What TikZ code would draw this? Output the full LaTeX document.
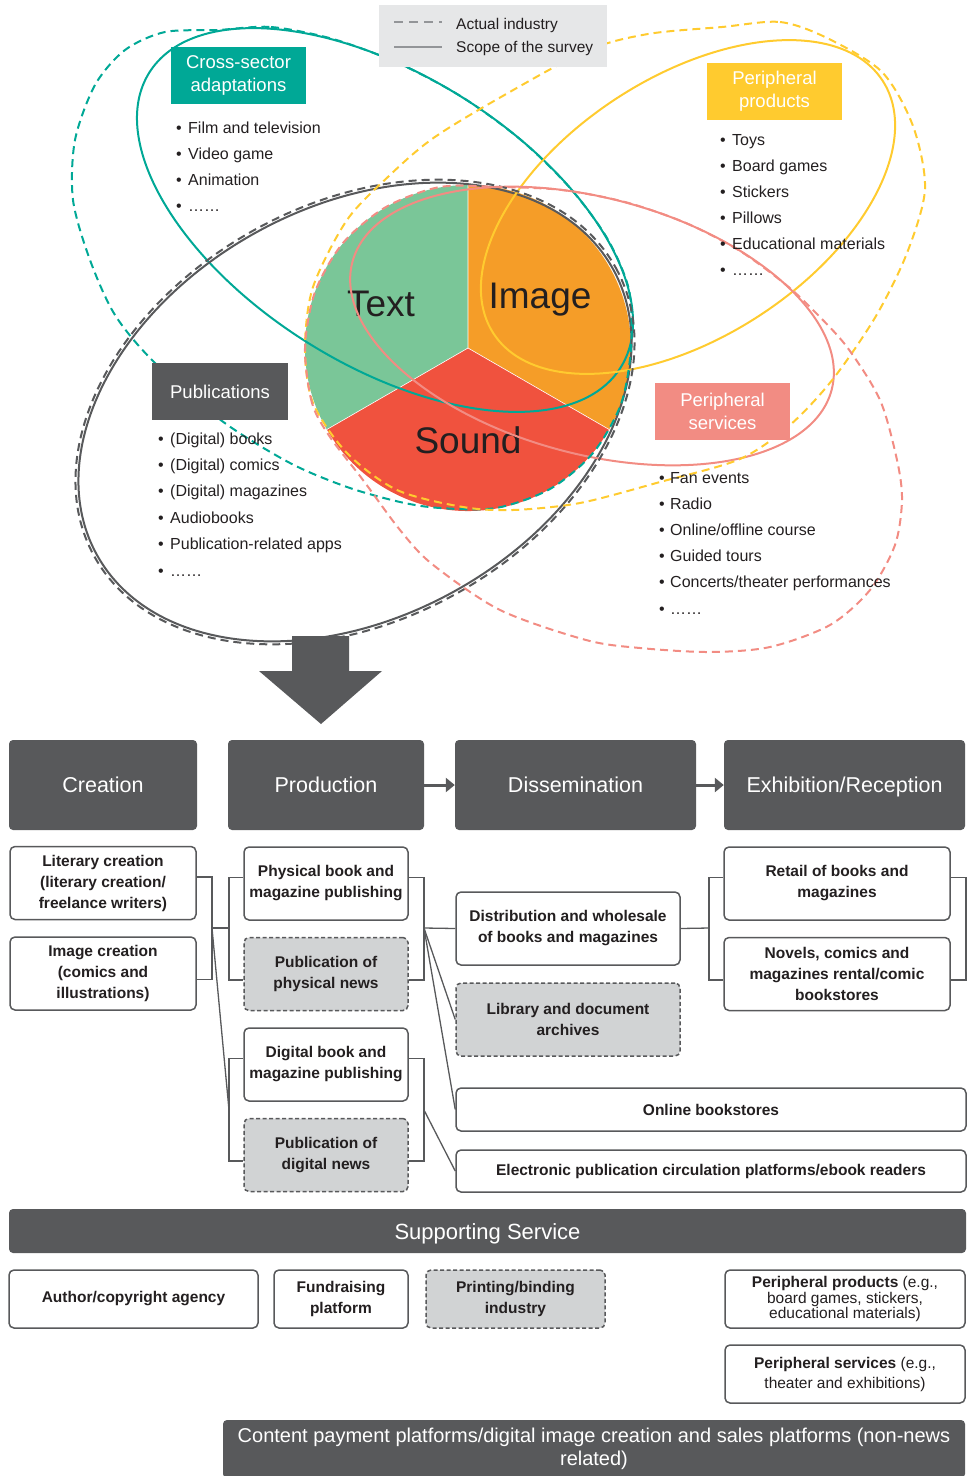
\documentclass[tikz,border=0pt]{standalone}
\usepackage{fontspec}
\setmainfont{Liberation Sans}
\usetikzlibrary{arrows.meta}
\definecolor{dgrey}{HTML}{58595B}
\definecolor{lgrey}{HTML}{D1D3D4}
\definecolor{legbg}{HTML}{E6E7E8}
\definecolor{mgrey}{HTML}{939598}
\definecolor{tealc}{RGB}{0,168,150}
\definecolor{yelc}{HTML}{FFCB2F}
\definecolor{pinkc}{HTML}{F28C83}
\definecolor{pgreen}{HTML}{7AC698}
\definecolor{porange}{HTML}{F59D28}
\definecolor{pred}{HTML}{F0523E}
\definecolor{ink}{HTML}{231F20}
\tikzset{
  sline/.style={line width=2pt},
  dline/.style={line width=2pt, dash pattern=on 8pt off 5pt},
  tag/.style={text=white, align=center, inner sep=0pt, minimum width=135pt, minimum height=57pt, font=\fontsize{18.5}{23}\selectfont},
  bul/.style={anchor=base west, text=ink, inner sep=0pt, font=\fontsize{16}{19}\selectfont},
  stage/.style={fill=dgrey, rounded corners=4pt, text=white, inner sep=0pt, minimum height=90pt, text height=15.5pt, text depth=0pt, font=\fontsize{21.5}{26}\selectfont},
  item/.style={draw=dgrey, line width=1.5pt, rounded corners=5pt, fill=white, align=center, text=ink, inner sep=0pt, minimum height=73pt, font=\bfseries\fontsize{15.5}{21}\selectfont},
  opt/.style={item, fill=lgrey, dash pattern=on 4pt off 2.5pt},
  link/.style={draw=dgrey, line width=1.3pt},
  flow/.style={draw=dgrey, line width=3pt, -{Triangle[length=9pt,width=14pt]}},
  band/.style={fill=dgrey, rounded corners=4pt, text=white, align=center, inner sep=0pt}
}
\begin{document}
\begin{tikzpicture}[x=1pt,y=-1pt]
\useasboundingbox (0,0) rectangle (967,1476);

%Pie
\fill[pgreen] (468,348) -- +(150:163) arc[start angle=150, end angle=270, radius=163] -- cycle;
\fill[porange] (468,348) -- +(270:163) arc[start angle=270, end angle=390, radius=163] -- cycle;
\fill[pred] (468,348) -- +(30:163) arc[start angle=30, end angle=150, radius=163] -- cycle;
\draw[white, line width=0.6pt] (468,348) -- +(150:163) (468,348) -- +(270:163) (468,348) -- +(30:163);
\node[text=ink, font=\fontsize{37}{40}\selectfont] (txt) at (381,304) {Text};
\node[text=ink, font=\fontsize{37}{40}\selectfont] (pic) at (540,300) {Image};
\node[text=ink, font=\fontsize{37}{40}\selectfont] (snd) at (468,440) {Sound};

%Scope of the survey
\draw[tealc, sline, rotate around={-32:(385,220)}] (385,220) ellipse [x radius=278, y radius=145];
\draw[dgrey, sline, rotate around={29:(355,412)}] (355,412) ellipse [x radius=295, y radius=205];
\draw[yelc, sline, rotate around={33:(688,207)}] (688,207) ellipse [x radius=232, y radius=130];
\draw[pinkc, sline, rotate around={-15:(592,326)}] (592,326) ellipse [x radius=248, y radius=128];

%Actual industry
\draw[tealc, dline] plot[smooth cycle] coordinates {(218,30) (271,27) (333,39) (398,63) (462,97) (521,140) (570,188) (607,238) (629,290) (631,348) (621,404) (593,453) (550,489) (496,508) (440,508) (400,502) (347,487) (290,463) (222,421) (154,362) (115,315) (90,260) (73,200) (75,140) (95,85) (125,50) (165,32)};
\draw[dgrey, dline, rotate around={29:(355,412)}] (355,412) ellipse [x radius=298, y radius=208];
\draw[yelc, dline] plot[smooth cycle] coordinates {(722,27) (780,22) (827,38) (882,72) (913,126) (925,189) (907,253) (876,316) (833,379) (790,425) (740,459) (660,482) (580,503) (513,510) (463,507) (397,490) (347,453) (313,403) (305,348) (313,287) (347,220) (390,175) (432,139) (494,101) (586,51) (648,34)};
\draw[pinkc, dline] plot[smooth cycle] coordinates {(330,437) (312,403) (305,348) (315,292) (343,243) (386,207) (440,187) (501,187) (562,190) (625,202) (686,223) (740,251) (785,284) (813,310) (847,347) (880,400) (897,460) (902,500) (895,545) (870,590) (830,625) (770,647) (709,652) (640,648) (586,640) (500,610) (432,564) (400,530) (363,480)};

%Legend
\fill[legbg] (379,5) rectangle (607,67);
\draw[mgrey, line width=2pt, dash pattern=on 9pt off 6pt] (394,22) -- (442,22);
\draw[mgrey, line width=2pt] (394,47) -- (442,47);
\node[bul, font=\fontsize{15.5}{19}\selectfont] (lgd1) at (456,29.5) {Actual industry};
\node[bul, font=\fontsize{15.5}{19}\selectfont] (lgd2) at (456,52.5) {Scope of the survey};

%Tags
\node[tag, fill=tealc] (cross) at (238.5,75.5) {Cross-sector\\adaptations};
\node[tag, fill=yelc] (ptag) at (774.5,91.5) {Peripheral\\products};
\node[tag, fill=dgrey, minimum width=136pt] (pubtag) at (220,391.5) {Publications};
\node[tag, fill=pinkc] (stag) at (722.5,411.5) {Peripheral\\services};

%Lists
\foreach \t [count=\i from 0] in {Film and television, Video game, Animation, ……}
  \node[bul] (cs\i) at (176,{133+26.3*\i}) {\makebox[12pt][l]{\textbullet}\t};
\foreach \t [count=\i from 0] in {Toys, Board games, Stickers, Pillows, Educational materials, ……}
  \node[bul] (pp\i) at (720,{145+26*\i}) {\makebox[12pt][l]{\textbullet}\t};
\foreach \t [count=\i from 0] in {{(Digital) books}, {(Digital) comics}, {(Digital) magazines}, Audiobooks, Publication-related apps, ……}
  \node[bul] (pb\i) at (158,{444+26.4*\i}) {\makebox[12pt][l]{\textbullet}\t};
\foreach \t [count=\i from 0] in {Fan events, Radio, Online/offline course, Guided tours, Concerts/theater performances, ……}
  \node[bul] (ps\i) at (659,{483+26.2*\i}) {\makebox[11pt][l]{\textbullet}\t};

%Arrow
\fill[dgrey] (292,636) -- (349,636) -- (349,671) -- (382,671) -- (321,724) -- (259,671) -- (292,671) -- cycle;

%Stages
\node[stage, minimum width=188pt] (cre) at (103,785) {Creation};
\node[stage, minimum width=196pt] (prod) at (326,785) {Production};
\node[stage, minimum width=241pt] (diss) at (575.5,785) {Dissemination};
\node[stage, minimum width=241pt] (exh) at (844.5,785) {Exhibition/Reception};
\draw[flow] (prod) -- (diss);
\draw[flow] (diss) -- (exh);

%Creation
\node[item, minimum width=186pt] (lit) at (103,883) {Literary creation\\(literary creation/\\freelance writers)};
\node[item, minimum width=186pt] (img) at (103,973.5) {Image creation\\(comics and\\illustrations)};

%Production
\node[item, minimum width=164pt] (phys) at (326,883.5) {Physical book and\\magazine publishing};
\node[opt, minimum width=164pt] (pnews) at (326,974) {Publication of\\physical news};
\node[item, minimum width=164pt] (dig) at (326,1064.5) {Digital book and\\magazine publishing};
\node[opt, minimum width=164pt] (dnews) at (326,1155) {Publication of\\digital news};

%Dissemination
\node[item, minimum width=224pt] (dist) at (568,928.5) {Distribution and wholesale\\of books and magazines};
\node[opt, minimum width=224pt] (lib) at (568,1019.5) {Library and document\\archives};
\node[item, minimum width=510pt, minimum height=43pt] (online) at (711,1109.5) {Online bookstores};
\node[item, minimum width=510pt, minimum height=42pt] (ebook) at (711,1171) {Electronic publication circulation platforms/ebook readers};

%Exhibition
\node[item, minimum width=226pt] (retail) at (837,883.5) {Retail of books and\\magazines};
\node[item, minimum width=226pt] (rental) at (837,974) {Novels, comics and\\magazines rental/comic\\bookstores};

%Links
\coordinate (cj) at (212,928);
\coordinate (pj) at (229,928);
\coordinate (dj) at (229,1110);
\coordinate (pr) at (424,928);
\coordinate (dr) at (424,1110);
\coordinate (xj) at (709,928);
\coordinate (xr) at (966,928);
\draw[link] ([yshift=6pt]lit.east) -| (cj) |- ([yshift=-6pt]img.east);
\draw[link] (cj) -- (pj);
\draw[link] (cj) -- (dj);
\draw[link] ([yshift=6pt]phys.west) -| (pj) |- ([yshift=-6pt]pnews.west);
\draw[link] ([yshift=6pt]dig.west) -| (dj) |- ([yshift=-6pt]dnews.west);
\draw[link] ([yshift=6pt]phys.east) -| (pr) |- ([yshift=-6pt]pnews.east);
\draw[link] ([yshift=6pt]dig.east) -| (dr) |- ([yshift=-6pt]dnews.east);
\draw[link] (pr) -- (dist.west);
\draw[link] (pr) -- (lib.west);
\draw[link] (pr) -- (online.west);
\draw[link] (dr) -- (ebook.west);
\draw[link] (dist.east) -- (xj);
\draw[link] ([yshift=6pt]retail.west) -| (xj) |- ([yshift=-6pt]rental.west);
\draw[link] ([yshift=6pt]retail.east) -| (xr) |- ([yshift=-6pt]rental.east);

%Supporting Service
\node[band, minimum width=957pt, minimum height=44pt, text height=16pt, text depth=0pt, font=\fontsize{22}{26}\selectfont] (sup) at (487.5,1231) {Supporting Service};
\node[item, minimum width=249pt, minimum height=58pt] (agency) at (133.5,1299) {Author/copyright agency};
\node[item, minimum width=134pt, minimum height=58pt] (fund) at (341,1299) {Fundraising\\platform};
\node[opt, minimum width=179pt, minimum height=58pt] (print) at (515.5,1299) {Printing/binding\\industry};
\node[item, minimum width=240pt, minimum height=58pt, font=\fontsize{15.5}{15.5}\selectfont] (pprod) at (845,1299) {\textbf{Peripheral products} (e.g.,\\board games, stickers,\\educational materials)};
\node[item, minimum width=240pt, minimum height=58pt, font=\fontsize{15.5}{20}\selectfont] (pserv) at (845,1374) {\textbf{Peripheral services} (e.g.,\\theater and exhibitions)};
\node[band, minimum width=742pt, minimum height=58pt, font=\fontsize{20}{22.5}\selectfont] (pay) at (594,1449) {Content payment platforms/digital image creation and sales platforms (non-news\\related)};
\end{tikzpicture}
\end{document}
